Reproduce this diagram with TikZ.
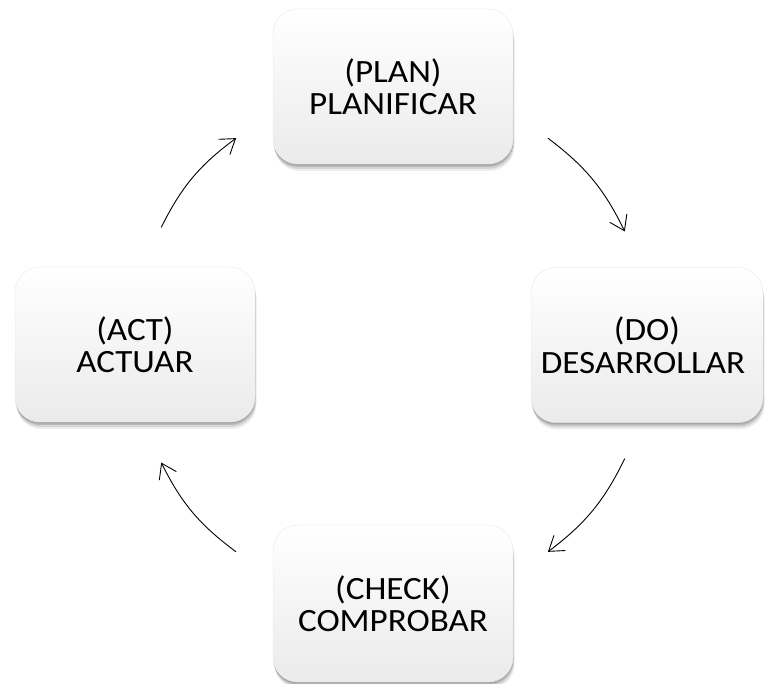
\documentclass[tikz,border=0pt]{standalone}
\usepackage{fontspec}
\setmainfont{Carlito}[FakeStretch=1.08]
\usetikzlibrary{arrows.meta}
\begin{document}
\begin{tikzpicture}[x=1pt,y=1pt,
  box/.style={rectangle, rounded corners=25pt, minimum width=240pt, minimum height=155pt,
    inner sep=0pt, align=center, top color=white, bottom color=gray!16,
    draw=gray!15, line width=0.5pt, font=\fontsize{32.5}{32.5}\selectfont,
    preaction={fill=black,opacity=0.07,transform canvas={xshift=1.5pt,yshift=-7pt}},
    preaction={fill=black,opacity=0.10,transform canvas={xshift=1pt,yshift=-5pt}},
    preaction={fill=black,opacity=0.14,transform canvas={xshift=0.5pt,yshift=-3pt}},
    preaction={fill=black,opacity=0.10,transform canvas={xshift=0pt,yshift=-1.5pt}}},
  arr/.style={-{Straight Barb[length=14pt,width=19pt]}, line width=0.9pt}]
\useasboundingbox (0,0) rectangle (767,684);
\node[box] (plan) at (393,597.5) {(PLAN)\\PLANIFICAR};
\node[box, minimum width=232pt] (do) at (647,339) {(DO)\\DESARROLLAR\hspace*{8pt}};
\node[box, minimum height=157pt] (check) at (393,80.5) {(CHECK)\\COMPROBAR};
\node[box] (act) at (135,339.5) {(ACT)\\ACTUAR};
\coordinate (c) at (392,339);
\path (c) ++(53:259) coordinate (a1) (c) ++(26:259) coordinate (a2)
      (c) ++(-26:259) coordinate (b1) (c) ++(-53:259) coordinate (b2)
      (c) ++(233:259) coordinate (d1) (c) ++(207:259) coordinate (d2)
      (c) ++(153:259) coordinate (e1) (c) ++(127:259) coordinate (e2);
\draw[arr] (a1) to[bend left=13.5] (a2);
\draw[arr] (b1) to[bend left=13.5] (b2);
\draw[arr] (d1) to[bend left=13.5] (d2);
\draw[arr] (e1) to[bend left=13.5] (e2);
\end{tikzpicture}
\end{document}
